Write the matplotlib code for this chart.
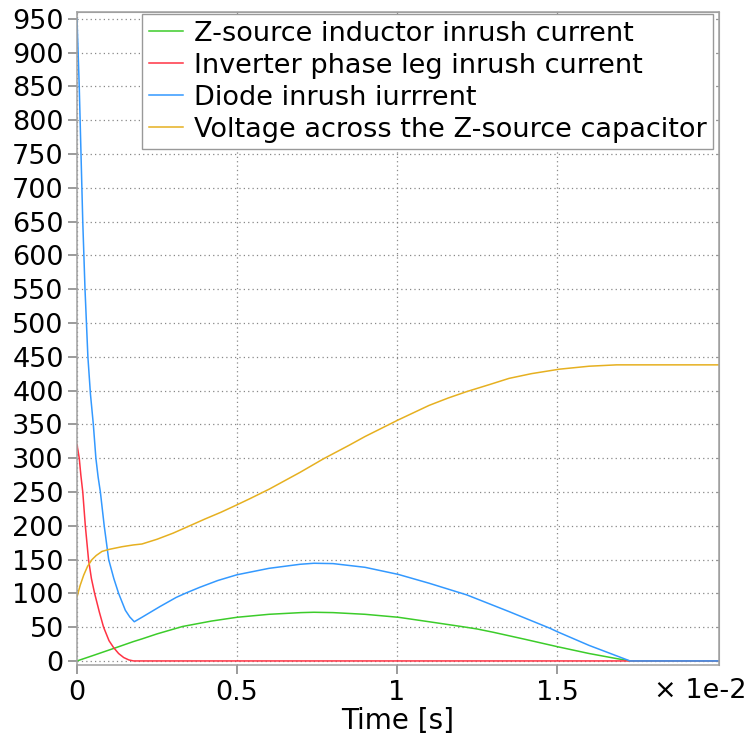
import matplotlib
matplotlib.use("Agg")
import matplotlib.pyplot as plt

# time values in units of 1e-2 s
t_ind = [0, 0.05, 0.125, 0.176, 0.203, 0.25, 0.33, 0.42, 0.5, 0.6, 0.7, 0.74,
         0.8, 0.9, 1.004, 1.1, 1.2, 1.249, 1.3, 1.4, 1.5, 1.6, 1.68, 1.728, 2.006]
i_ind = [0, 8, 20.2, 28.6, 32.6, 40, 51, 59, 64.6, 69, 71.5, 72,
         71.5, 69, 64.6, 58, 51, 47.4, 42.5, 32, 21.2, 11, 4, 0, 0]

t_inv = [0, 0.007, 0.012, 0.018, 0.026, 0.036, 0.045, 0.055, 0.07, 0.083,
         0.1, 0.114, 0.13, 0.146, 0.162, 0.177, 2.006]
i_inv = [320, 300, 275, 250, 200, 150, 122, 100, 72, 50,
         30, 20, 11, 5, 1.5, 0, 0]

t_dio = [0, 0.007, 0.0125, 0.018, 0.025, 0.034, 0.042, 0.051, 0.059, 0.066,
         0.073, 0.085, 0.099, 0.115, 0.13, 0.151, 0.165, 0.179, 0.203, 0.259,
         0.31, 0.343, 0.384, 0.44, 0.5, 0.6, 0.697, 0.74, 0.8, 0.9, 1.004,
         1.1, 1.218, 1.35, 1.478, 1.5, 1.6, 1.728, 2.006]
i_dio = [950, 850, 750, 650, 550, 450, 395, 350, 300, 272,
         250, 200, 150, 122, 100, 75, 65, 58, 64.6, 80.4,
         94, 101, 109, 119, 127.5, 137, 143, 144.5, 144, 138.5, 128,
         115, 97.7, 73, 48.3, 43.4, 23, 0, 0]

t_cap = [0, 0.01, 0.021, 0.033, 0.047, 0.06, 0.078, 0.1, 0.141, 0.176, 0.203,
         0.25, 0.3, 0.343, 0.4, 0.45, 0.5, 0.54, 0.6, 0.697, 0.77, 0.85, 0.9,
         1.004, 1.1, 1.16, 1.218, 1.29, 1.35, 1.42, 1.507, 1.6, 1.686, 2.006]
v_cap = [95, 112, 127, 140, 150, 156, 162, 165, 169, 171.6, 173,
         180, 189, 198, 210, 220, 231, 240, 254, 279, 299, 319, 332,
         356.6, 378, 389, 398.5, 409, 418, 425, 431.6, 436, 438, 438]

labels = [
    'Z-source inductor inrush current',
    'Inverter phase leg inrush current',
    'Diode inrush iurrrent',
    'Voltage across the Z-source capacitor',
]
colors = ['#3ccc2a', '#ff3344', '#3399ff', '#e6b020']

x_ticks = [0, 0.5, 1, 1.5]
y_ticks = list(range(0, 951, 50))

plt.rcParams['font.family'] = 'DejaVu Sans'

fig = plt.figure(figsize=(7.51, 7.40), dpi=100)
ax = fig.add_axes([77 / 751, 1 - 665 / 740, 642 / 751, 653 / 740])

ax.plot(t_ind, i_ind, color=colors[0], lw=1.1, label=labels[0])
ax.plot(t_inv, i_inv, color=colors[1], lw=1.1, label=labels[1])
ax.plot(t_dio, i_dio, color=colors[2], lw=1.1, label=labels[2])
ax.plot(t_cap, v_cap, color=colors[3], lw=1.1, label=labels[3])

ax.set_xlim(0, 2.006)
ax.set_ylim(-6, 960)
ax.set_xticks(x_ticks)
ax.set_xticklabels(['%g' % v for v in x_ticks])
ax.set_yticks(y_ticks)

ax.grid(True, color='#888888', linestyle=(0, (1, 2.5)), linewidth=0.9)
for s in ax.spines.values():
    s.set_color('#a0a0a0')
    s.set_linewidth(1.1)
ax.tick_params(axis='both', direction='out', length=6.5, width=1.1,
               color='#808080', labelsize=19.5, top=False, right=False)
ax.tick_params(axis='x', pad=4)
ax.tick_params(axis='y', pad=3)

# small inward ticks on the top and right edges
top = ax.secondary_xaxis('top')
top.set_xticks(x_ticks)
top.tick_params(direction='in', length=2.5, width=0.8, color='#a0a0a0',
                labeltop=False, labelbottom=False)
right = ax.secondary_yaxis('right')
right.set_yticks(y_ticks)
right.tick_params(direction='in', length=2.5, width=0.8, color='#a0a0a0',
                  labelright=False, labelleft=False)
for sec in (top, right):
    for s in sec.spines.values():
        s.set_color('#a0a0a0')

ax.set_xlabel('Time [s]', fontsize=20, labelpad=1)
fig.text(747 / 751, 1 - 691 / 740, '× 1e-2', ha='right', va='center', fontsize=19.5)

leg = ax.legend(loc='upper right', bbox_to_anchor=(0.9907, 0.9969),
                borderaxespad=0, fontsize=19.5, frameon=True, fancybox=False,
                framealpha=1, edgecolor='#999999', handlelength=1.25,
                handletextpad=0.4, borderpad=0.25, labelspacing=0.22)
leg.get_frame().set_linewidth(1.0)

plt.savefig('out.png', dpi=100)
